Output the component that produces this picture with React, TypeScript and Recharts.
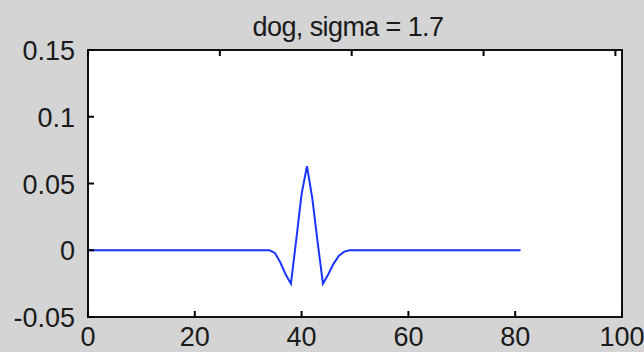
import { LineChart, Line, XAxis, YAxis } from 'recharts'

// dog response, one value per sample (sample index 0..81)
const DOG = [
  0, 0, 0, 0, 0, 0, 0, 0, 0, 0,
  0, 0, 0, 0, 0, 0, 0, 0, 0, 0,
  0, 0, 0, 0, 0, 0, 0, 0, 0, 0,
  0, 0, 0, 0, 0, -0.002, -0.009, -0.018, -0.025, 0.008,
  0.042, 0.063, 0.039, 0.006, -0.025, -0.018, -0.01, -0.004, -0.001, 0,
  0, 0, 0, 0, 0, 0, 0, 0, 0, 0,
  0, 0, 0, 0, 0, 0, 0, 0, 0, 0,
  0, 0, 0, 0, 0, 0, 0, 0, 0, 0,
  0, 0,
]
const X_TICKS = [0, 20, 40, 60, 80, 100]
const Y_TICKS = [-0.05, 0, 0.05, 0.1, 0.15]
const TITLE = 'dog, sigma = 1.7'

const data = DOG.map((v, i) => ({ n: i, v }))

const FONT = '"Liberation Sans", Arial, sans-serif'
const TXT = '#1a1a1a'

// MATLAB-style: tick marks point into the box
const BottomTick = (p: any) => (
  <g>
    <line x1={p.x} x2={p.x} y1={p.y} y2={p.y - 6} stroke="black" strokeWidth={2} />
    <text x={p.x} y={p.y + 29} textAnchor="middle" fontSize={27} fontFamily={FONT} fill={TXT}>
      {p.payload.value}
    </text>
  </g>
)

const LeftTick = (p: any) => (
  <g>
    <line x1={p.x} x2={p.x + 6} y1={p.y} y2={p.y} stroke="black" strokeWidth={2} />
    <text x={p.x - 13} y={p.y + 10} textAnchor="end" fontSize={27} fontFamily={FONT} fill={TXT}>
      {String(p.payload.value)}
    </text>
  </g>
)

const TopTick = (p: any) => (
  <line x1={p.x} x2={p.x} y1={p.y} y2={p.y + 6} stroke="black" strokeWidth={2} />
)

const RightTick = (p: any) => (
  <line x1={p.x} x2={p.x - 6} y1={p.y} y2={p.y} stroke="black" strokeWidth={2} />
)

export default function App() {
  return (
    <div style={{ position: 'absolute', left: 0, top: 0, width: 644, height: 352, background: '#d4d4d4' }}>
      <div
        style={{
          position: 'absolute', top: 14, left: 0, width: 696, textAlign: 'center',
          fontFamily: FONT, fontSize: 27, lineHeight: '27px', letterSpacing: -0.6, color: TXT,
        }}
      >
        {TITLE}
      </div>
      {/* plot box */}
      <div
        style={{
          position: 'absolute', left: 87, top: 49, width: 536, height: 269, boxSizing: 'border-box',
          background: '#fff', border: '2px solid #111',
        }}
      />
      <div style={{ position: 'absolute', left: 0, top: 0 }}>
        <LineChart width={644} height={352} data={data} margin={{ top: 49, right: 21, bottom: 0, left: 0 }}>
          <XAxis xAxisId="b" dataKey="n" type="number" domain={[0, 100]} ticks={X_TICKS} height={35}
            tickSize={0} tickMargin={0} tickLine={false} tick={BottomTick} axisLine={false} interval={0} />
          <XAxis xAxisId="t" orientation="top" type="number" domain={[0, 100]} ticks={X_TICKS} height={1}
            tickSize={0} tickMargin={0} tickLine={false} tick={TopTick} axisLine={false} interval={0} />
          <YAxis yAxisId="l" type="number" domain={[-0.05, 0.15]} ticks={Y_TICKS} width={88}
            tickSize={0} tickMargin={0} tickLine={false} tick={LeftTick} axisLine={false} interval={0} />
          <YAxis yAxisId="r" orientation="right" type="number" domain={[-0.05, 0.15]} ticks={Y_TICKS} width={1}
            tickSize={0} tickMargin={0} tickLine={false} tick={RightTick} axisLine={false} interval={0} />
          <Line xAxisId="b" yAxisId="l" dataKey="v" type="linear" stroke="#1a35ff" strokeWidth={2}
            dot={false} isAnimationActive={false} />
        </LineChart>
      </div>
    </div>
  )
}
